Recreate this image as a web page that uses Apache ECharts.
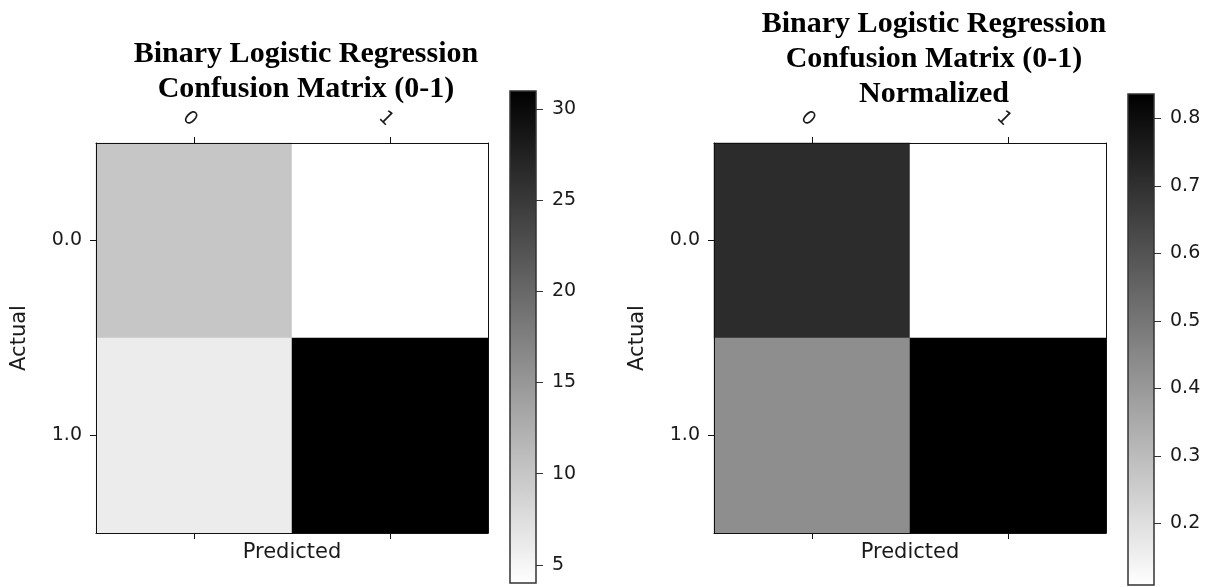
<!DOCTYPE html>
<html><head><meta charset="utf-8">
<script src="https://cdn.jsdelivr.net/npm/echarts@6/dist/echarts.min.js"></script>
<style>html,body{margin:0;padding:0;background:#fff}#c{width:1211px;height:587px}</style>
</head><body><div id="c"></div><script>
// ---- data ----
const predictedLabels = ['0', '1'];
const actualLabels = ['0.0', '1.0'];
const countMatrix = [[10, 4], [6, 31]];
const normalizedMatrix = [[0.711, 0.109], [0.431, 0.836]];
const countTicks = [5, 10, 15, 20, 25, 30];
const normalizedTicks = [0.2, 0.3, 0.4, 0.5, 0.6, 0.7, 0.8];
const leftTitle = 'Binary Logistic Regression\nConfusion Matrix (0-1)';
const rightTitle = 'Binary Logistic Regression\nConfusion Matrix (0-1)\nNormalized';
const xName = 'Predicted';
const yName = 'Actual';

// ---- helpers ----
const toCells = m => m.flatMap((row, r) => row.map((v, c) => [c, r, v]));
const flat = m => m.flat();
const cMin = Math.min(...flat(countMatrix)), cMax = Math.max(...flat(countMatrix));
const nMin = Math.min(...flat(normalizedMatrix)), nMax = Math.max(...flat(normalizedMatrix));

const FONT = 'DejaVu Sans';
const TXT = '#1a1a1a';
const LINE = '#111';
const gradient = {type: 'linear', x: 0, y: 0, x2: 0, y2: 1,
  colorStops: [{offset: 0, color: '#000000'}, {offset: 1, color: '#ffffff'}]};
const tick = {show: true, inside: false, alignWithLabel: true, length: 6, lineStyle: {color: LINE, width: 1}};

function matrixAxes(gi) {
  const xs = [
    {type: 'category', gridIndex: gi, data: predictedLabels, position: 'top', z: 10,
     axisLine: {show: true, lineStyle: {color: LINE, width: 1}},
     axisTick: tick,
     axisLabel: {rotate: 45, margin: 20, fontFamily: FONT, fontSize: 19, color: TXT},
     splitLine: {show: false}},
    {type: 'category', gridIndex: gi, data: predictedLabels, position: 'bottom', z: 10,
     name: xName, nameLocation: 'middle', nameGap: 9,
     nameTextStyle: {fontFamily: FONT, fontSize: 21, color: TXT, verticalAlign: 'top'},
     axisLine: {show: true, lineStyle: {color: LINE, width: 1}},
     axisTick: tick,
     axisLabel: {show: false}, splitLine: {show: false}}
  ];
  const ys = [
    {type: 'category', gridIndex: gi, data: actualLabels, inverse: true, position: 'left', z: 10,
     name: yName, nameLocation: 'middle', nameGap: 66, nameRotate: 90,
     nameTextStyle: {fontFamily: FONT, fontSize: 21, color: TXT},
     axisLine: {show: true, lineStyle: {color: LINE, width: 1}},
     axisTick: tick,
     axisLabel: {margin: 14, fontFamily: FONT, fontSize: 19, color: TXT},
     splitLine: {show: false}},
    {type: 'category', gridIndex: gi, data: actualLabels, inverse: true, position: 'right', z: 10,
     axisLine: {show: true, lineStyle: {color: LINE, width: 1}},
     axisTick: {show: false}, axisLabel: {show: false}, splitLine: {show: false}}
  ];
  return {xs, ys};
}
function barAxes(gi, min, max, ticks, fmt) {
  return {
    x: {type: 'category', gridIndex: gi, show: false, data: ['']},
    y: {type: 'value', gridIndex: gi, min, max, position: 'right', z: 10,
        axisLine: {show: false, onZero: false},
        axisTick: {show: true, inside: false, length: 7, customValues: ticks, lineStyle: {color: '#333', width: 1}},
        axisLabel: {customValues: ticks, margin: 16, fontFamily: FONT, fontSize: 19, color: TXT,
                    formatter: fmt},
        splitLine: {show: false}}
  };
}

const L = matrixAxes(0), R = matrixAxes(2);
const LB = barAxes(1, cMin, cMax, countTicks, v => String(Math.round(v)));
const RB = barAxes(3, nMin, nMax, normalizedTicks, v => Number(v).toFixed(1));

const option = {
  backgroundColor: '#ffffff',
  animation: false,
  title: [
    {text: leftTitle, left: 301, top: 32, textAlign: 'center',
     textStyle: {fontFamily: 'Liberation Serif', fontWeight: 'bold', fontSize: 30, lineHeight: 35, color: '#000'}},
    {text: rightTitle, left: 929, top: 2, textAlign: 'center',
     textStyle: {fontFamily: 'Liberation Serif', fontWeight: 'bold', fontSize: 30, lineHeight: 35, color: '#000'}}
  ],
  grid: [
    {left: 96, top: 143, width: 392, height: 390},
    {left: 510, top: 91, width: 26, height: 492, show: true, backgroundColor: gradient, borderColor: '#333', borderWidth: 1.5},
    {left: 714, top: 143, width: 392, height: 390},
    {left: 1128, top: 94, width: 26, height: 491, show: true, backgroundColor: gradient, borderColor: '#333', borderWidth: 1.5}
  ],
  xAxis: [L.xs[0], L.xs[1], LB.x, R.xs[0], R.xs[1], RB.x],
  yAxis: [L.ys[0], L.ys[1], LB.y, R.ys[0], R.ys[1], RB.y],
  visualMap: [
    {type: 'continuous', seriesIndex: 0, min: cMin, max: cMax, show: false, inRange: {color: ['#ffffff', '#000000']}},
    {type: 'continuous', seriesIndex: 1, min: nMin, max: nMax, show: false, inRange: {color: ['#ffffff', '#000000']}}
  ],
  series: [
    {type: 'heatmap', xAxisIndex: 0, yAxisIndex: 0, data: toCells(countMatrix), emphasis: {disabled: true}},
    {type: 'heatmap', xAxisIndex: 3, yAxisIndex: 3, data: toCells(normalizedMatrix), emphasis: {disabled: true}}
  ]
};
const chart = echarts.init(document.getElementById('c'), null, {renderer: 'canvas'});
chart.setOption(option);
</script></body></html>
